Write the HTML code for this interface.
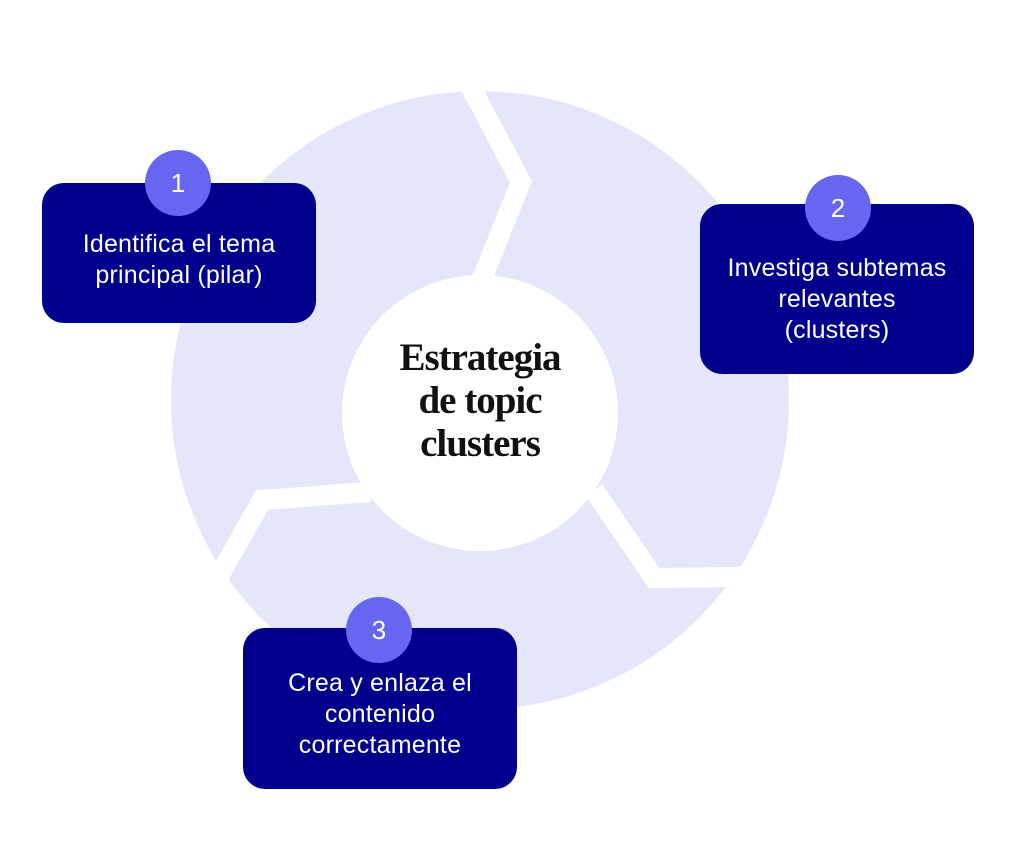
<!DOCTYPE html>
<html><head><meta charset="utf-8"><style>
html,body{margin:0;padding:0;background:#fff;}
body{width:1024px;height:844px;position:relative;overflow:hidden;font-family:"Liberation Sans",sans-serif;}
.box{position:absolute;background:#00008c;border-radius:22px;color:#fff;font-size:25px;line-height:31px;text-align:center;box-sizing:border-box;letter-spacing:0.2px;}
.badge{position:absolute;width:66px;height:66px;border-radius:50%;background:#6666f0;color:#fff;font-size:26px;line-height:66px;text-align:center;}
.title{position:absolute;left:330px;width:300px;top:336px;text-align:center;font-family:"Liberation Serif",serif;font-weight:bold;font-size:39px;line-height:43px;color:#111;letter-spacing:-1px;}
</style></head><body>
<svg width="1024" height="844" style="position:absolute;left:0;top:0">
<circle cx="480" cy="400" r="309" fill="#e6e6fa"/>
<g fill="none" stroke="#fff" stroke-width="20" stroke-linejoin="miter">
<polyline points="466,78 521,182 480,284"/>
<polyline points="594,490 654,578 800,576"/>
<polyline points="370,492 262,500 200,610"/>
</g>
<circle cx="480" cy="413" r="138" fill="#fff"/>
</svg>
<div class="title">Estrategia<br>de topic<br>clusters</div>
<div class="box" style="left:42px;top:183px;width:274px;height:140px;padding-top:46px;">Identifica el tema<br>principal (pilar)</div>
<div class="badge" style="left:145px;top:150px;">1</div>
<div class="box" style="left:700px;top:204px;width:274px;height:170px;padding-top:49px;">Investiga subtemas<br>relevantes<br>(clusters)</div>
<div class="badge" style="left:805px;top:175px;">2</div>
<div class="box" style="left:243px;top:628px;width:274px;height:161px;padding-top:40px;">Crea y enlaza el<br>contenido<br>correctamente</div>
<div class="badge" style="left:346px;top:597px;">3</div>
</body></html>
